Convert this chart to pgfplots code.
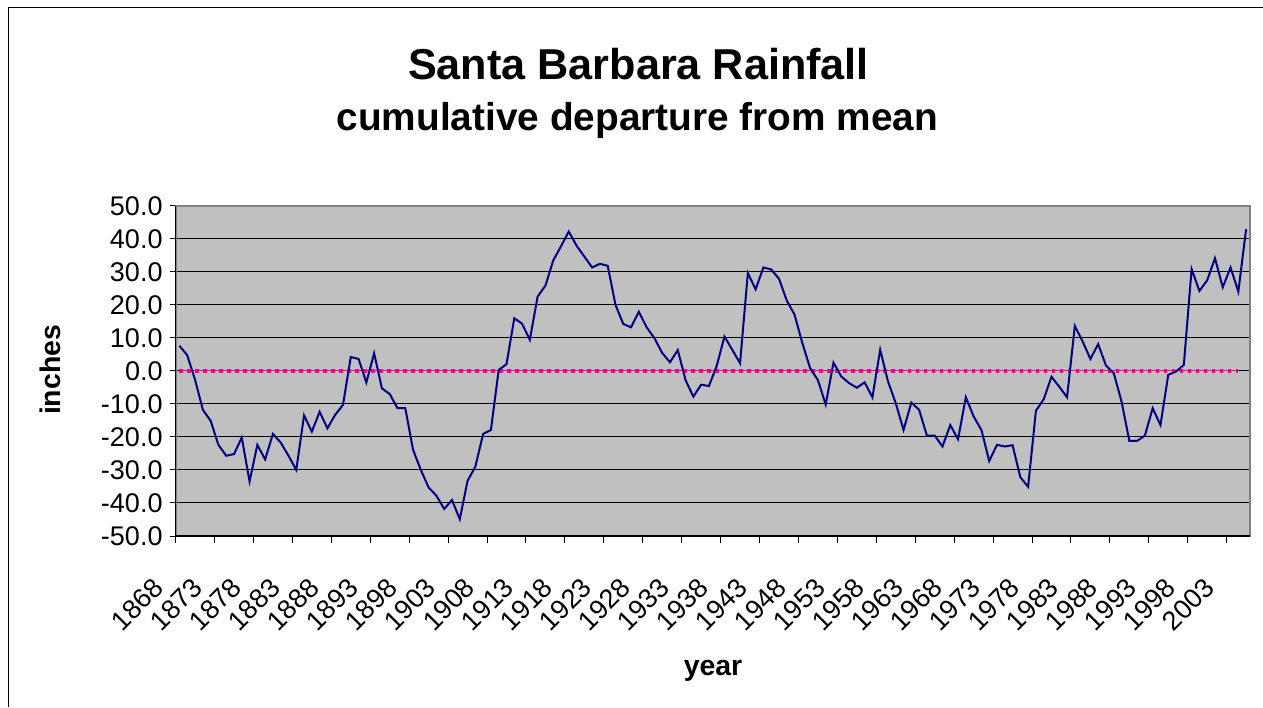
\documentclass[border=0pt]{standalone}
\usepackage{pgfplots}
\pgfplotsset{compat=1.18}
\usepackage{fontspec}
\setmainfont{Liberation Sans}

\definecolor{plotgray}{HTML}{C0C0C0}
\definecolor{navyline}{HTML}{000080}
\definecolor{boxgray}{HTML}{808080}

\begin{document}
\begin{tikzpicture}
  % page = 1263 x 707 px at 0.5pt per px
  \useasboundingbox (0,0) rectangle (631.5pt,353.5pt);
  \draw[line width=0.5pt] (4pt,0) -- (4pt,349.5pt) -- (631.5pt,349.5pt);

  \node[anchor=base, font=\bfseries\fontsize{21.6}{26}\selectfont]
    at (319.25pt,313.5pt) {Santa Barbara Rainfall};
  \node[anchor=base, font=\bfseries\fontsize{19.4}{23}\selectfont]
    at (318.75pt,288pt) {cumulative departure from mean};
  \node[rotate=90, font=\bfseries\fontsize{14.2}{17}\selectfont]
    at (25pt,168.5pt) {inches};
  \node[anchor=base, font=\bfseries\fontsize{14.2}{17}\selectfont]
    at (356.5pt,16pt) {year};

  \begin{axis}[
    scale only axis,
    width=537.2pt, height=165.15pt,
    at={(87.8pt,85.5pt)}, anchor=south west,
    xmin=-0.5, xmax=137.5,
    ymin=-50, ymax=50,
    axis background/.style={fill=plotgray},
    axis line style={draw=boxgray, line width=1pt},
    ymajorgrids,
    major grid style={black, line width=0.5pt},
    tick align=outside,
    xtick pos=bottom, ytick pos=left,
    ytick={-50,-40,...,50},
    yticklabels={-50.0,-40.0,-30.0,-20.0,-10.0,0.0,10.0,20.0,30.0,40.0,50.0},
    xtick={0,5,...,135},
    xticklabels={1868,1873,1878,1883,1888,1893,1898,1903,1908,1913,1918,1923,1928,1933,1938,1943,1948,1953,1958,1963,1968,1973,1978,1983,1988,1993,1998,2003},
    minor xtick={-0.5,4.5,...,134.5},
    major x tick style={draw=none},
    minor x tick style={black, line width=0.5pt},
    minor tick length=3.5pt,
    major tick length=3pt,
    y tick style={black, line width=0.5pt},
    ticklabel style={font=\fontsize{13.5}{16}\selectfont},
    xticklabel style={xshift=-8pt, yshift=-18pt, rotate=45, anchor=east},
    clip=false,
  ]
    % mean line
    \addplot[magenta, line width=0.4pt] coordinates {(0,0) (136,0)};
    \addplot[magenta, line width=1.7pt, dash pattern=on 1.8pt off 2.2pt] coordinates {(0,0) (136,0)};

    % cumulative departure from mean, 1868-2005
    \addplot[navyline, line width=1pt] coordinates {
      (0,7.6) (1,4.7) (2,-2.7) (3,-11.8) (4,-15.1) (5,-22.4) (6,-25.7) (7,-25.2)
      (8,-20.2) (9,-33.5) (10,-22.4) (11,-26.8) (12,-19.1) (13,-21.7) (14,-25.7)
      (15,-30.0) (16,-13.5) (17,-18.4) (18,-12.4) (19,-17.4) (20,-13.3) (21,-10.3)
      (22,4.2) (23,3.6) (24,-3.5) (25,5.3) (26,-5.3) (27,-7.0) (28,-11.3) (29,-11.3)
      (30,-23.9) (31,-30.0) (32,-35.3) (33,-37.8) (34,-41.8) (35,-39.1) (36,-44.9)
      (37,-33.3) (38,-29.0) (39,-19.1) (40,-17.9) (41,0.3) (42,2.0) (43,15.9)
      (44,14.3) (45,9.4) (46,22.5) (47,25.8) (48,33.4) (49,37.7) (50,42.2)
      (51,37.9) (52,34.6) (53,31.3) (54,32.4) (55,31.8) (56,20.0) (57,14.2)
      (58,13.2) (59,17.9) (60,13.2) (61,9.9) (62,5.4) (63,2.6) (64,6.3) (65,-2.8)
      (66,-7.8) (67,-4.2) (68,-4.6) (69,1.5) (70,10.4) (71,6.4) (72,2.3) (73,29.6)
      (74,24.7) (75,31.3) (76,30.7) (77,27.9) (78,21.3) (79,17.0) (80,8.4) (81,0.8)
      (82,-2.8) (83,-10.2) (84,2.5) (85,-1.7) (86,-3.7) (87,-5.1) (88,-3.5) (89,-8.0)
      (90,6.4) (91,-3.2) (92,-9.8) (93,-17.9) (94,-9.6) (95,-11.8) (96,-19.6)
      (97,-19.6) (98,-22.9) (99,-16.4) (100,-20.7) (101,-8.0) (102,-13.8) (103,-17.9)
      (104,-27.3) (105,-22.4) (106,-22.9) (107,-22.5) (108,-32.2) (109,-35.1)
      (110,-12.1) (111,-8.6) (112,-1.8) (113,-4.8) (114,-8.0) (115,13.6) (116,8.9)
      (117,3.6) (118,8.1) (119,1.6) (120,-0.7) (121,-9.3) (122,-21.2) (123,-21.2)
      (124,-19.6) (125,-11.3) (126,-16.4) (127,-1.2) (128,-0.2) (129,1.8) (130,30.8)
      (131,24.2) (132,27.4) (133,34.1) (134,25.3) (135,31.3) (136,24.0) (137,42.9)
    };

    % left and bottom axis lines are black, the rest of the frame gray
    \draw[black, line width=0.8pt] (rel axis cs:0,1) -- (rel axis cs:0,0) -- (rel axis cs:1,0);
  \end{axis}
\end{tikzpicture}
\end{document}
